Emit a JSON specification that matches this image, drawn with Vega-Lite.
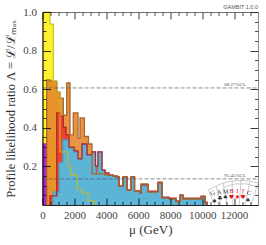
{"$schema":"https://vega.github.io/schema/vega-lite/v6.json","width":215.5,"height":193,"autosize":{"type":"none"},"padding":{"left":42.5,"top":12,"right":8,"bottom":40},"background":"white",
"datasets":{
"yellow":[{"x":0,"v":1},{"x":470,"v":0.938},{"x":677,"v":0.637},{"x":909,"v":0.585},{"x":1097,"v":0.275},{"x":1598,"v":0.197},{"x":1786,"v":0.155},{"x":2162,"v":0.083},{"x":2475,"v":0.062},{"x":2851,"v":0.021},{"x":3290,"v":0}],
"purple":[{"x":0,"v":0.32},{"x":250,"v":0}],
"orange":[{"x":263,"v":0},{"x":263,"v":0.648},{"x":470,"v":0.642},{"x":890,"v":0.585},{"x":1097,"v":0.554},{"x":1303,"v":0.466},{"x":1516,"v":0.632},{"x":1723,"v":0.363},{"x":1930,"v":0.477},{"x":2224,"v":0.347},{"x":2350,"v":0.451},{"x":2625,"v":0.355},{"x":2882,"v":0.316},{"x":3102,"v":0.161},{"x":3916,"v":0.155},{"x":4417,"v":0.15},{"x":4668,"v":0.145},{"x":4793,"v":0.098},{"x":5044,"v":0.145},{"x":5295,"v":0.078},{"x":5546,"v":0.145},{"x":5765,"v":0.073},{"x":6110,"v":0.062},{"x":6172,"v":0.109},{"x":6611,"v":0.067},{"x":7237,"v":0.114},{"x":7488,"v":0.036},{"x":7926,"v":0.031},{"x":8365,"v":0.016},{"x":8616,"v":0.047},{"x":8804,"v":0.031},{"x":9681,"v":0.031},{"x":9932,"v":0.041},{"x":10182,"v":0.01},{"x":10308,"v":0}],
"red":[{"x":470,"v":0},{"x":470,"v":0.047},{"x":890,"v":0.477},{"x":1097,"v":0.461},{"x":1303,"v":0.404},{"x":1473,"v":0.363},{"x":1661,"v":0.3},{"x":1974,"v":0.28},{"x":2224,"v":0.24},{"x":2475,"v":0.316},{"x":2788,"v":0.26},{"x":3102,"v":0.275},{"x":3321,"v":0.202},{"x":3478,"v":0.275},{"x":3728,"v":0.181},{"x":3916,"v":0.166},{"x":4167,"v":0.155},{"x":4417,"v":0.15},{"x":4668,"v":0.145},{"x":4793,"v":0.098},{"x":5044,"v":0.145},{"x":5295,"v":0.078},{"x":5546,"v":0.145},{"x":5765,"v":0.073},{"x":6110,"v":0.062},{"x":6172,"v":0.104},{"x":6611,"v":0.072},{"x":7237,"v":0.119},{"x":7488,"v":0.041},{"x":7926,"v":0.036},{"x":8365,"v":0.021},{"x":8616,"v":0.052},{"x":8804,"v":0.036},{"x":9681,"v":0.036},{"x":9932,"v":0.046},{"x":10182,"v":0.015},{"x":10308,"v":0}],
"blue":[{"x":658,"v":0},{"x":658,"v":0.067},{"x":1053,"v":0.218},{"x":1285,"v":0.337},{"x":1661,"v":0.295},{"x":1974,"v":0.275},{"x":2224,"v":0.233},{"x":2475,"v":0.316},{"x":2788,"v":0.26},{"x":3102,"v":0.275},{"x":3321,"v":0.161},{"x":3478,"v":0.275},{"x":3728,"v":0.181},{"x":3916,"v":0.16},{"x":4167,"v":0.155},{"x":4417,"v":0.15},{"x":4668,"v":0.145},{"x":4793,"v":0.098},{"x":5044,"v":0.145},{"x":5295,"v":0.078},{"x":5546,"v":0.145},{"x":5765,"v":0.073},{"x":6110,"v":0.062},{"x":6172,"v":0.104},{"x":6611,"v":0.067},{"x":7237,"v":0.114},{"x":7488,"v":0.036},{"x":7926,"v":0.031},{"x":8365,"v":0.016},{"x":8616,"v":0.047},{"x":8804,"v":0.031},{"x":9681,"v":0.031},{"x":9932,"v":0.041},{"x":10182,"v":0.01},{"x":10308,"v":0}],
"cards":[{"c":"a1","x":10370,"v":0.078},{"c":"a1","x":10871,"v":0.098},{"c":"a1","x":11310,"v":0.114},{"c":"a1","x":11874,"v":0.124},{"c":"a1","x":12438,"v":0.127},{"c":"a1","x":13002,"v":0.124},{"c":"a1","x":13503,"v":0.114},{"c":"a2","x":11373,"v":0.093},{"c":"a2","x":12062,"v":0.109},{"c":"a2","x":12814,"v":0.109},{"c":"a2","x":13503,"v":0.093},{"c":"e1","x":10370,"v":0.078},{"c":"e1","x":10809,"v":0},{"c":"e2","x":10871,"v":0.098},{"c":"e2","x":11185,"v":0},{"c":"e3","x":11310,"v":0.114},{"c":"e3","x":11561,"v":0},{"c":"e4","x":11874,"v":0.124},{"c":"e4","x":11937,"v":0},{"c":"e5","x":12438,"v":0.127},{"c":"e5","x":12312,"v":0},{"c":"e6","x":13002,"v":0.124},{"c":"e6","x":12689,"v":0},{"c":"e7","x":13503,"v":0.114},{"c":"e7","x":13065,"v":0}],
"letters":[{"t":"G","x":10652,"v":0.062,"a":-18,"k":"b"},{"t":"A","x":11059,"v":0.066,"a":-12,"k":"b"},{"t":"M","x":11467,"v":0.069,"a":-6,"k":"b"},{"t":"B","x":11843,"v":0.073,"a":0,"k":"r"},{"t":"I","x":12206,"v":0.073,"a":0,"k":"r"},{"t":"T","x":12563,"v":0.069,"a":6,"k":"r"},{"t":"C","x":12939,"v":0.062,"a":12,"k":"b"}],
"suits":[{"t":"♠","x":10765,"v":0.022,"k":"b"},{"t":"♣","x":11122,"v":0.035,"k":"b"},{"t":"♠","x":11467,"v":0.041,"k":"b"},{"t":"♥","x":11843,"v":0.041,"k":"r"},{"t":"♦","x":12206,"v":0.041,"k":"r"},{"t":"♥","x":12563,"v":0.041,"k":"r"},{"t":"♠","x":12876,"v":0.028,"k":"b"}],
"cl":[{"t":"68.27%CL","x":12062,"v":0.6065},{"t":"95.45%CL","x":12062,"v":0.1353}],
"lines":[{"v":0.6065},{"v":0.1353}],
"stamp":[{"t":"GAMBIT 1.0.0","x":13500,"v":1}],
"dummy":[{"x":0,"v":0}]
},
"encoding":{"x":{"field":"x","type":"quantitative","scale":{"domain":[0,13500],"nice":false,"zero":false},"axis":null},"y":{"field":"v","type":"quantitative","scale":{"domain":[0,1],"nice":false,"zero":false},"axis":null}},
"resolve":{"axis":{"x":"independent","y":"independent"}},
"layer":[
{"data":{"name":"yellow"},"mark":{"type":"area","interpolate":"step-after","fill":"#fdf22c"}},
{"data":{"name":"purple"},"mark":{"type":"area","interpolate":"step-after","fill":"#b51fd6"}},
{"data":{"name":"orange"},"mark":{"type":"area","interpolate":"step-after","fill":"#e5852a","fillOpacity":0.88}},
{"data":{"name":"red"},"mark":{"type":"area","interpolate":"step-after","fill":"#e8452f"}},
{"data":{"name":"blue"},"mark":{"type":"area","interpolate":"step-after","fill":"#5cb4d6"}},
{"data":{"name":"blue"},"mark":{"type":"line","interpolate":"step-after","stroke":"#49a8cc","strokeWidth":1.4}},
{"data":{"name":"red"},"mark":{"type":"line","interpolate":"step-after","stroke":"#b8262a","strokeWidth":1.3}},
{"data":{"name":"orange"},"mark":{"type":"line","interpolate":"step-after","stroke":"#a9672a","strokeWidth":1.3}},
{"data":{"name":"yellow"},"mark":{"type":"line","interpolate":"step-after","stroke":"#c4bb1c","strokeWidth":1.1}},
{"data":{"name":"lines"},"mark":{"type":"rule","stroke":"#555555","strokeWidth":0.9,"strokeDash":[4,2],"opacity":0.75},"encoding":{"x":{"value":0},"x2":{"value":215.5}}},
{"data":{"name":"cl"},"mark":{"type":"text","font":"Liberation Serif","fontSize":5,"fill":"#555555","baseline":"bottom","dy":-1},"encoding":{"text":{"field":"t"}}},
{"data":{"name":"stamp"},"mark":{"type":"text","font":"Liberation Sans","fontSize":5.5,"fill":"#555555","align":"right","baseline":"bottom","dy":-2},"encoding":{"text":{"field":"t"}}},
{"data":{"name":"cards"},"mark":{"type":"line","stroke":"#aaaaaa","strokeWidth":0.6,"clip":true},"encoding":{"detail":{"field":"c"},"order":{"value":0}}},
{"data":{"name":"letters"},"mark":{"type":"text","font":"Liberation Serif","fontSize":6.5,"baseline":"middle"},"encoding":{"text":{"field":"t"},"angle":{"field":"a","type":"quantitative","scale":null},"color":{"field":"k","type":"nominal","scale":{"domain":["b","r"],"range":["#333333","#e8141c"]},"legend":null}}},
{"data":{"name":"suits"},"mark":{"type":"text","font":"DejaVu Sans","fontSize":6,"baseline":"middle"},"encoding":{"text":{"field":"t"},"color":{"field":"k","type":"nominal","scale":{"domain":["b","r"],"range":["#111111","#e8141c"]},"legend":null}}},
{"data":{"name":"dummy"},"mark":{"type":"point","opacity":0},"encoding":{
"x":{"field":"x","type":"quantitative","axis":{"orient":"bottom","values":[0,2000,4000,6000,8000,10000,12000],"format":"d","grid":false,"tickSize":-7,"tickColor":"#111111","tickWidth":0.9,"domainColor":"#222222","domainWidth":1,"labelFont":"Liberation Serif","labelFontSize":11,"labelColor":"#444444","labelPadding":11,"labelFlush":false,"labelOverlap":false,"title":"μ (GeV)","titleFont":"Liberation Serif","titleFontSize":13,"titleFontWeight":"normal","titleColor":"#333333","titlePadding":3,"zindex":1}},
"y":{"field":"v","type":"quantitative","axis":{"orient":"left","values":[0.2,0.4,0.6,0.8,1],"format":".1f","grid":false,"tickSize":-8,"tickColor":"#111111","tickWidth":0.9,"domainColor":"#111111","domainWidth":1.2,"labelFont":"Liberation Serif","labelFontSize":11,"labelColor":"#444444","labelPadding":14,"labelFlush":false,"labelOverlap":false,"title":"Profile likelihood ratio Λ = ℒ/ℒₘₐₓ","titleFont":"Liberation Serif","titleFontSize":12.5,"titleFontWeight":"normal","titleColor":"#333333","titlePadding":5,"zindex":1}}}},
{"data":{"name":"dummy"},"mark":{"type":"point","opacity":0},"encoding":{
"x":{"field":"x","type":"quantitative","axis":{"orient":"bottom","values":[500,1000,1500,2500,3000,3500,4500,5000,5500,6500,7000,7500,8500,9000,9500,10500,11000,11500,12500,13000],"grid":false,"tickSize":-3.5,"tickColor":"#111111","tickWidth":0.8,"domain":false,"labels":false,"title":null,"zindex":1}},
"y":{"field":"v","type":"quantitative","axis":{"orient":"left","values":[0.05,0.1,0.15,0.25,0.3,0.35,0.45,0.5,0.55,0.65,0.7,0.75,0.85,0.9,0.95],"grid":false,"tickSize":-3.5,"tickColor":"#111111","tickWidth":0.8,"domain":false,"labels":false,"title":null,"zindex":1}}}},
{"data":{"name":"dummy"},"mark":{"type":"point","opacity":0},"encoding":{
"x":{"field":"x","type":"quantitative","axis":{"orient":"top","values":[0,2000,4000,6000,8000,10000,12000],"grid":false,"tickSize":-7,"tickColor":"#222222","tickWidth":0.9,"domainColor":"#555555","domainWidth":0.8,"labels":false,"title":null,"zindex":1}},
"y":{"field":"v","type":"quantitative","axis":{"orient":"right","values":[0,0.2,0.4,0.6,0.8,1],"grid":false,"tickSize":-8,"tickColor":"#222222","tickWidth":0.9,"domainColor":"#777777","domainWidth":0.8,"labels":false,"title":null,"zindex":1}}}},
{"data":{"name":"dummy"},"mark":{"type":"point","opacity":0},"encoding":{
"x":{"field":"x","type":"quantitative","axis":{"orient":"top","values":[500,1000,1500,2500,3000,3500,4500,5000,5500,6500,7000,7500,8500,9000,9500,10500,11000,11500,12500,13000],"grid":false,"tickSize":-3.5,"tickColor":"#222222","tickWidth":0.8,"domain":false,"labels":false,"title":null,"zindex":1}},
"y":{"field":"v","type":"quantitative","axis":{"orient":"right","values":[0.05,0.1,0.15,0.25,0.3,0.35,0.45,0.5,0.55,0.65,0.7,0.75,0.85,0.9,0.95],"grid":false,"tickSize":-3.5,"tickColor":"#222222","tickWidth":0.8,"domain":false,"labels":false,"title":null,"zindex":1}}}}
]}
